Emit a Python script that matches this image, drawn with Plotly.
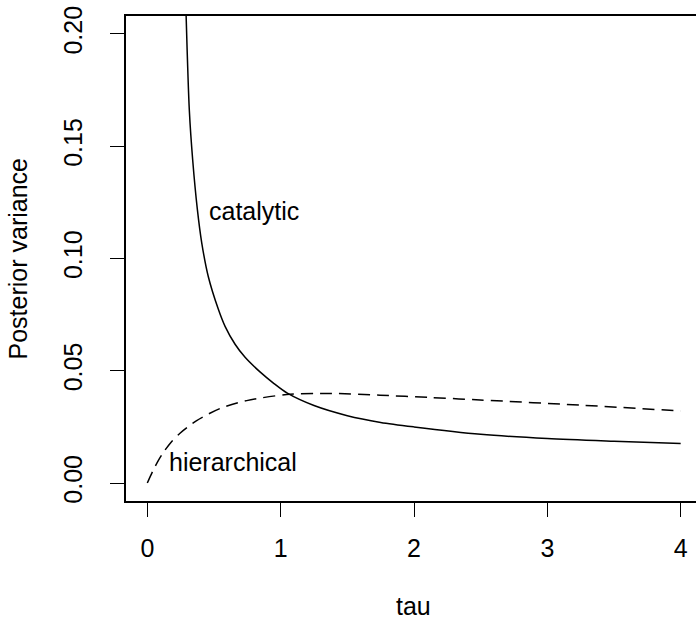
import plotly.graph_objects as go

# catalytic posterior variance (solid)
tau_cat = [0.291, 0.315, 0.34, 0.375, 0.408, 0.457, 0.532, 0.583, 0.658, 0.733,
           0.845, 0.95, 1.05, 1.25, 1.5, 1.75, 2.0, 2.5, 3.0, 3.5, 4.0]
var_cat = [0.208, 0.166, 0.144, 0.122, 0.107, 0.092, 0.0775, 0.0698, 0.0618, 0.0560,
           0.0495, 0.0443, 0.0400, 0.0345, 0.0300, 0.0270, 0.0250, 0.0217, 0.0198, 0.0186, 0.0176]

# hierarchical posterior variance (dashed)
tau_hier = [0.0, 0.04, 0.08, 0.12, 0.18, 0.245, 0.37, 0.545, 0.745, 1.045, 1.37, 1.745,
            2.12, 2.495, 3.245, 4.0]
var_hier = [0.0, 0.0052, 0.0098, 0.0136, 0.0183, 0.0222, 0.0278, 0.0332, 0.0367, 0.0394,
            0.0399, 0.0391, 0.0381, 0.0370, 0.0347, 0.0321]

x_ticks = [0, 1, 2, 3, 4]
y_ticks = [0.0, 0.05, 0.10, 0.15, 0.20]
y_tick_labels = ["0.00", "0.05", "0.10", "0.15", "0.20"]

FONT = "Liberation Sans, Arial, Helvetica, sans-serif"
FS = 25

fig = go.Figure()
fig.add_trace(go.Scatter(x=tau_cat, y=var_cat, mode="lines",
                         line=dict(color="black", width=1.5, shape="spline", smoothing=0.8),
                         hoverinfo="skip", showlegend=False, cliponaxis=True))
fig.add_trace(go.Scatter(x=tau_hier, y=var_hier, mode="lines",
                         line=dict(color="black", width=1.5, dash="12px,7px",
                                   shape="spline", smoothing=0.8),
                         hoverinfo="skip", showlegend=False, cliponaxis=True))

fig.add_annotation(x=0.80, y=0.121, text="catalytic", showarrow=False,
                   xref="x", yref="y", xanchor="center", yanchor="middle",
                   font=dict(family=FONT, size=FS, color="black"))
fig.add_annotation(x=0.643, y=0.0094, text="hierarchical", showarrow=False,
                   xref="x", yref="y", xanchor="center", yanchor="middle",
                   font=dict(family=FONT, size=FS, color="black"))

# axis titles
fig.add_annotation(x=0.505, y=-0.2156, xref="paper", yref="paper", text="tau",
                   xanchor="center", yanchor="middle",
                   showarrow=False, font=dict(family=FONT, size=FS, color="black"))
fig.add_annotation(x=-0.1895, y=0.5, xref="paper", yref="paper", text="Posterior variance",
                   xanchor="center", yanchor="middle",
                   textangle=-90, showarrow=False, font=dict(family=FONT, size=FS, color="black"))

fig.update_layout(
    width=696, height=619,
    margin=dict(l=126, r=0, t=16, b=118, pad=0),
    paper_bgcolor="white", plot_bgcolor="white",
    font=dict(family=FONT, size=FS, color="black"),
    xaxis=dict(range=[-0.16, 4.115], tickvals=x_ticks, ticktext=[str(v) for v in x_ticks],
               showgrid=False, zeroline=False, showline=True, mirror=True,
               linecolor="black", linewidth=1.5, ticks="outside", ticklen=14,
               tickwidth=1.3, tickcolor="black", ticklabelstandoff=10),
    yaxis=dict(range=[-0.008, 0.208], tickvals=y_ticks, ticktext=y_tick_labels,
               tickangle=-90, showgrid=False, zeroline=False, showline=True, mirror=False,
               linecolor="black", linewidth=1.5, ticks="outside", ticklen=14,
               tickwidth=1.3, tickcolor="black", ticklabelstandoff=18),
)

fig.write_html("out.html")
